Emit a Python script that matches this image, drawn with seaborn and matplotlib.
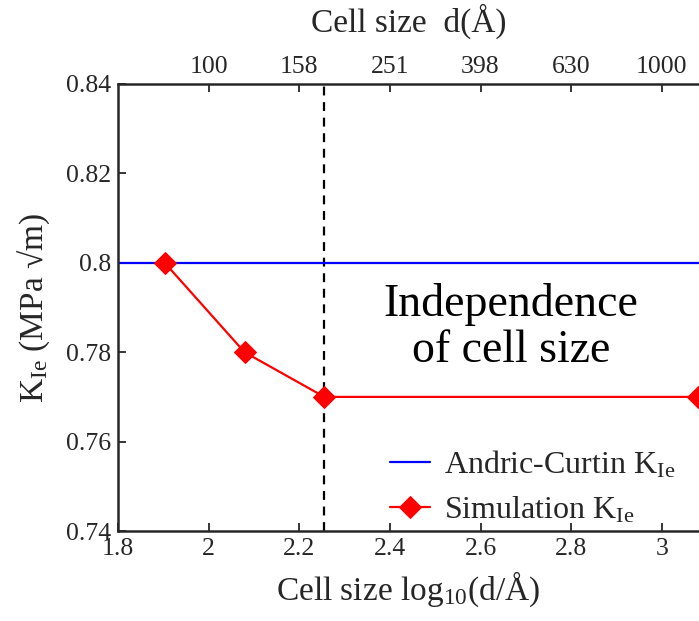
import numpy as np
import pandas as pd
import matplotlib
matplotlib.use("Agg")
import matplotlib.pyplot as plt
from matplotlib.ticker import FormatStrFormatter
import seaborn as sns

# Simulated fracture toughness versus cell size
cell_size_A = [80, 120, 180, 1200]
k_sim = [0.80, 0.78, 0.77, 0.77]
k_andric_curtin = 0.80
critical_size_A = 180

x_ticks = [1.8, 2.0, 2.2, 2.4, 2.6, 2.8, 3.0]
y_ticks = [0.74, 0.76, 0.78, 0.80, 0.82, 0.84]
top_tick_pos = [2.0, 2.2, 2.4, 2.6, 2.8, 3.0]
top_tick_labels = ["100", "158", "251", "398", "630", "1000"]

sns.set_style("ticks")
plt.rcParams["font.family"] = ["Liberation Serif", "DejaVu Serif"]
plt.rcParams["mathtext.fontset"] = "custom"
plt.rcParams["mathtext.rm"] = "Liberation Serif"
plt.rcParams["mathtext.it"] = "Liberation Serif:italic"

axis_col = "#262626"
tick_fs = 18.5
label_fs = 24

df = pd.DataFrame({"logd": np.log10(cell_size_A), "K": k_sim})

fig = plt.figure(figsize=(6.99, 6.21), dpi=100)
ax = fig.add_axes([118 / 699, 90 / 621, 1 - 118 / 699, 447 / 621])

ax.axhline(k_andric_curtin, color="#0000ff", lw=1.6,
           label=r"Andric-Curtin K$_{\mathrm{Ie}}$", zorder=2)
ax.axvline(np.log10(critical_size_A), color="black", lw=1.6,
           ls=(0, (4, 3)), zorder=1)
sns.lineplot(data=df, x="logd", y="K", ax=ax, color="#ff0000", lw=1.6,
             marker="D", markersize=11, markeredgecolor="#ff0000",
             label=r"Simulation K$_{\mathrm{Ie}}$", zorder=3)

ax.set_xlim(1.8, 3.082)
ax.set_ylim(0.74, 0.84)
ax.set_xticks(x_ticks)
ax.set_yticks(y_ticks)
ax.xaxis.set_major_formatter(FormatStrFormatter("%g"))
ax.yaxis.set_major_formatter(FormatStrFormatter("%g"))
ax.tick_params(axis="both", direction="in", length=6, width=1.3,
               labelsize=tick_fs, colors=axis_col, labelcolor=axis_col, pad=5)
for side in ["left", "bottom", "top"]:
    ax.spines[side].set_color(axis_col)
    ax.spines[side].set_linewidth(1.8)
ax.spines["right"].set_visible(False)

ax.set_xlabel(r"Cell size log$_{10}$(d/Å)", fontsize=label_fs, color=axis_col,
              labelpad=7)
ax.set_ylabel(r"K$_{\mathrm{Ie}}$ (MPa √m)", fontsize=label_fs, color=axis_col,
              labelpad=10)

top = ax.secondary_xaxis("top")
top.set_xticks(top_tick_pos)
top.set_xticklabels(top_tick_labels)
top.tick_params(direction="in", length=6, width=1.3, labelsize=tick_fs,
                colors=axis_col, labelcolor=axis_col, pad=4)
top.spines["top"].set_visible(False)
top.set_xlabel("Cell size  d(Å)", fontsize=label_fs, color=axis_col,
               labelpad=18)

ax.text(2.667, 0.7855, "Independence\nof cell size", fontsize=33,
        ha="center", va="center", color="black", linespacing=1.12)

ax.legend(loc="center left", bbox_to_anchor=(377 / 699, 1 - 487 / 621),
          bbox_transform=fig.transFigure, frameon=False, fontsize=23,
          handlelength=1.25, handletextpad=0.45, labelspacing=0.45,
          borderaxespad=0)

fig.savefig("out.png", dpi=100)
